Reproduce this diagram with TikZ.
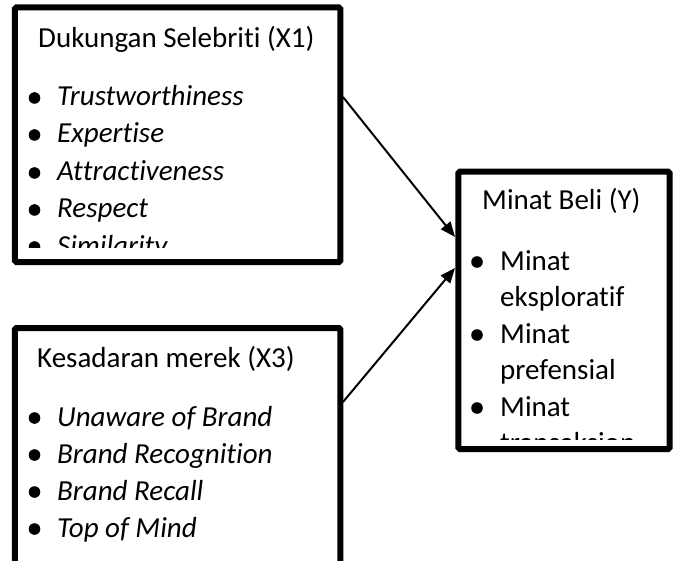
\documentclass[tikz,border=0pt]{standalone}
\usepackage{fontspec}
\setmainfont{Carlito}[Ligatures={NoCommon,NoContextual}]
\newcommand\nolg{\kern0pt{}}
\usetikzlibrary{arrows.meta}
\begin{document}
\begin{tikzpicture}[x=1pt,y=-1pt,
  boxframe/.style={draw=black, line width=6pt, rounded corners=1.5pt, fill=white},
  txt/.style={anchor=base west, inner sep=0pt, font=\fontsize{29}{36}\selectfont},
  itm/.style={txt, font=\fontsize{29}{36}\selectfont\itshape},
  bul/.style={fill=black},
  conn/.style={line width=2pt, -{Triangle[length=15pt,width=12pt]}}
]
\useasboundingbox (0,0) rectangle (674,561);
% boxes
\draw[boxframe] (14.8,7.5) rectangle (340.3,262);
\draw[boxframe] (14.8,328) rectangle (340.3,600);
\draw[boxframe] (458.3,171.7) rectangle (669.5,449);
\node[inner sep=0pt, minimum width=325pt, minimum height=254pt, anchor=north west] (b1) at (14.8,7.5) {};
\node[inner sep=0pt, minimum width=325pt, minimum height=272pt, anchor=north west] (b2) at (14.8,328) {};
\node[inner sep=0pt, minimum width=211pt, minimum height=277pt, anchor=north west] (b3) at (458.3,171.7) {};
% box 1 text
\begin{scope}
\clip (18,11) rectangle (337,248);
\node[txt] (t1) at (38,48) {Dukungan Selebrit\nolg i (X1)};
\node[itm] (t1a) at (57,106) {Trustworthiness};
\node[itm] (t1b) at (57,143) {Expertise};
\node[itm] (t1c) at (57,181) {At\nolg t\nolg ract\nolg iveness};
\node[itm] (t1d) at (57,218) {Respect};
\node[itm] (t1e) at (57,255) {Similarity};
\foreach \y in {106,143,181,218,255} \fill[bul] (34.5,\y-8) circle (5.8);
\end{scope}
% box 2 text
\node[txt] (t2) at (37,367) {Kesadaran merek (X3)};
\node[itm] (t2a) at (57,426) {Unaware of Brand};
\node[itm] (t2b) at (57,463) {Brand Recognit\nolg ion};
\node[itm] (t2c) at (57,500) {Brand Recall};
\node[itm] (t2d) at (57,537) {Top of Mind};
\foreach \y in {426,463,500,537} \fill[bul] (34.5,\y-8) circle (5.8);
% box 3 text
\begin{scope}
\clip (462,175) rectangle (666,439);
\node[txt] (t3) at (482,210) {Minat Beli (Y)};
\node[txt] (t3a) at (500,270) {Minat};
\node[txt] (t3b) at (500,306.5) {eksplorat\nolg if};
\node[txt] (t3c) at (500,343) {Minat};
\node[txt] (t3d) at (500,379.5) {prefensial};
\node[txt] (t3e) at (500,416) {Minat};
\node[txt] (t3f) at (500,452.5) {transaksion};
\foreach \y in {270,343,416} \fill[bul] (477,\y-8) circle (5.8);
\end{scope}
% connectors
\coordinate (s1) at (343,97);
\coordinate (e1) at (455,237);
\coordinate (s2) at (343,402);
\coordinate (e2) at (455,268);
\draw[conn] (s1) -- (e1);
\draw[conn] (s2) -- (e2);
\end{tikzpicture}
\end{document}
